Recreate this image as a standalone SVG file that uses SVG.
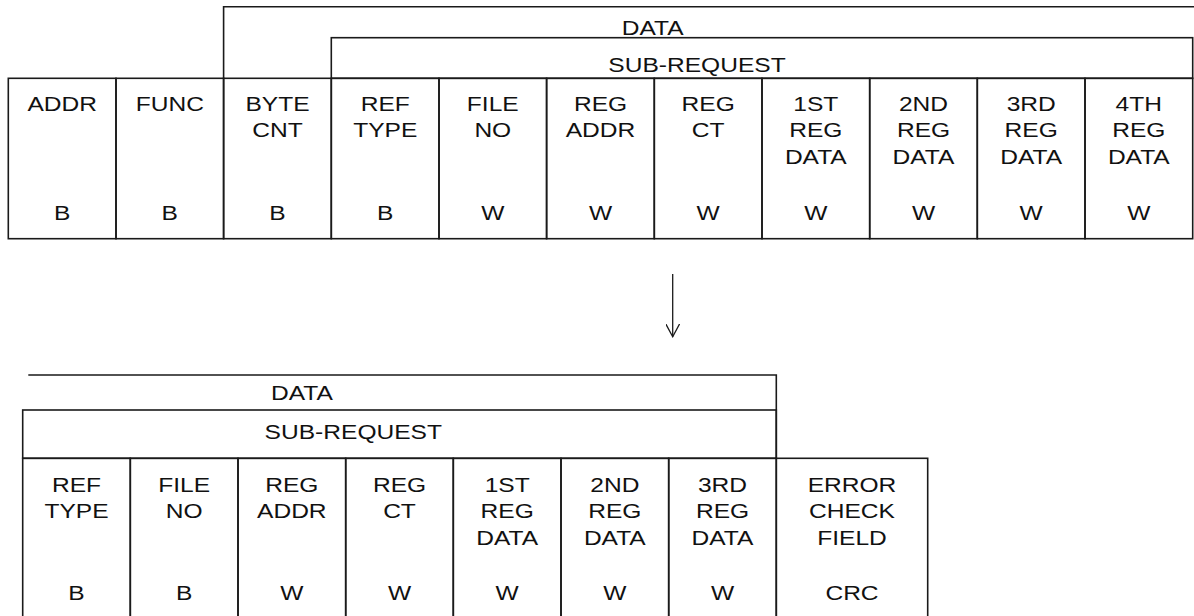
<svg xmlns="http://www.w3.org/2000/svg" width="1194" height="616" viewBox="0 0 1194 616">
  <style>
    .frame { fill: none; stroke: #1a1a1a; stroke-width: 1.6; }
    .lbl { font-family: "Liberation Sans", Arial, sans-serif; font-size: 21px; fill: #111; text-anchor: middle; }
    .conn { fill: none; stroke: #1a1a1a; stroke-width: 1.3; }
  </style>
  <defs>
    <marker id="openArrow" viewBox="0 0 14 14" refX="13" refY="7" markerWidth="14" markerHeight="14" markerUnits="userSpaceOnUse" orient="auto">
      <path d="M0,0 L13,7 L0,14" fill="none" stroke="#1a1a1a" stroke-width="1.3"/>
    </marker>
  </defs>
  <rect width="1194" height="616" fill="#ffffff"/>

  <!-- Request frame: ADDR .. 4TH REG DATA -->
  <g id="req-data">
    <path class="frame" d="M223.6,78.3 V6.7 H1194"/>
    <text class="lbl" transform="translate(652.7,34.5) scale(1.17 1)">DATA</text>
  </g>
  <g id="req-subrequest">
    <rect class="frame" x="331.3" y="37.7" width="861.4" height="40.6"/>
    <text class="lbl" transform="translate(697,71.5) scale(1.17 1)">SUB-REQUEST</text>
  </g>

  <g id="req-addr">
    <rect class="frame" x="8.3" y="78.3" width="107.7" height="160.4"/>
    <text class="lbl" transform="translate(62.2,110.5) scale(1.17 1)">ADDR</text>
    <text class="lbl" transform="translate(62.2,220) scale(1.17 1)">B</text>
  </g>
  <g id="req-func">
    <rect class="frame" x="116" y="78.3" width="107.6" height="160.4"/>
    <text class="lbl" transform="translate(169.8,110.5) scale(1.17 1)">FUNC</text>
    <text class="lbl" transform="translate(169.8,220) scale(1.17 1)">B</text>
  </g>
  <g id="req-bytecnt">
    <rect class="frame" x="223.6" y="78.3" width="107.7" height="160.4"/>
    <text class="lbl" transform="translate(277.5,110.5) scale(1.17 1)"><tspan x="0">BYTE</tspan><tspan x="0" dy="27">CNT</tspan></text>
    <text class="lbl" transform="translate(277.5,220) scale(1.17 1)">B</text>
  </g>
  <g id="req-reftype">
    <rect class="frame" x="331.3" y="78.3" width="107.7" height="160.4"/>
    <text class="lbl" transform="translate(385.2,110.5) scale(1.17 1)"><tspan x="0">REF</tspan><tspan x="0" dy="27">TYPE</tspan></text>
    <text class="lbl" transform="translate(385.2,220) scale(1.17 1)">B</text>
  </g>
  <g id="req-fileno">
    <rect class="frame" x="439" y="78.3" width="107.6" height="160.4"/>
    <text class="lbl" transform="translate(492.8,110.5) scale(1.17 1)"><tspan x="0">FILE</tspan><tspan x="0" dy="27">NO</tspan></text>
    <text class="lbl" transform="translate(492.8,220) scale(1.17 1)">W</text>
  </g>
  <g id="req-regaddr">
    <rect class="frame" x="546.6" y="78.3" width="107.7" height="160.4"/>
    <text class="lbl" transform="translate(600.5,110.5) scale(1.17 1)"><tspan x="0">REG</tspan><tspan x="0" dy="27">ADDR</tspan></text>
    <text class="lbl" transform="translate(600.5,220) scale(1.17 1)">W</text>
  </g>
  <g id="req-regct">
    <rect class="frame" x="654.3" y="78.3" width="107.7" height="160.4"/>
    <text class="lbl" transform="translate(708.2,110.5) scale(1.17 1)"><tspan x="0">REG</tspan><tspan x="0" dy="27">CT</tspan></text>
    <text class="lbl" transform="translate(708.2,220) scale(1.17 1)">W</text>
  </g>
  <g id="req-reg1">
    <rect class="frame" x="762" y="78.3" width="107.7" height="160.4"/>
    <text class="lbl" transform="translate(815.8,110.5) scale(1.17 1)"><tspan x="0">1ST</tspan><tspan x="0" dy="27">REG</tspan><tspan x="0" dy="27">DATA</tspan></text>
    <text class="lbl" transform="translate(815.8,220) scale(1.17 1)">W</text>
  </g>
  <g id="req-reg2">
    <rect class="frame" x="869.7" y="78.3" width="107.6" height="160.4"/>
    <text class="lbl" transform="translate(923.5,110.5) scale(1.17 1)"><tspan x="0">2ND</tspan><tspan x="0" dy="27">REG</tspan><tspan x="0" dy="27">DATA</tspan></text>
    <text class="lbl" transform="translate(923.5,220) scale(1.17 1)">W</text>
  </g>
  <g id="req-reg3">
    <rect class="frame" x="977.3" y="78.3" width="107.7" height="160.4"/>
    <text class="lbl" transform="translate(1031.2,110.5) scale(1.17 1)"><tspan x="0">3RD</tspan><tspan x="0" dy="27">REG</tspan><tspan x="0" dy="27">DATA</tspan></text>
    <text class="lbl" transform="translate(1031.2,220) scale(1.17 1)">W</text>
  </g>
  <g id="req-reg4">
    <rect class="frame" x="1085" y="78.3" width="107.7" height="160.4"/>
    <text class="lbl" transform="translate(1138.8,110.5) scale(1.17 1)"><tspan x="0">4TH</tspan><tspan x="0" dy="27">REG</tspan><tspan x="0" dy="27">DATA</tspan></text>
    <text class="lbl" transform="translate(1138.8,220) scale(1.17 1)">W</text>
  </g>

  <!-- Continuation frame: REF TYPE .. ERROR CHECK FIELD -->
  <g id="cont-data">
    <path class="frame" d="M28.3,375 H776.3 V458.3"/>
    <text class="lbl" transform="translate(302,400) scale(1.17 1)">DATA</text>
  </g>
  <g id="cont-subrequest">
    <rect class="frame" x="22.7" y="410" width="753.6" height="48.3"/>
    <text class="lbl" transform="translate(353.3,439.3) scale(1.17 1)">SUB-REQUEST</text>
  </g>

  <g id="cont-reftype">
    <rect class="frame" x="22.7" y="458.3" width="107.6" height="180"/>
    <text class="lbl" transform="translate(76.5,491.5) scale(1.17 1)"><tspan x="0">REF</tspan><tspan x="0" dy="27">TYPE</tspan></text>
    <text class="lbl" transform="translate(76.5,600) scale(1.17 1)">B</text>
  </g>
  <g id="cont-fileno">
    <rect class="frame" x="130.3" y="458.3" width="107.7" height="180"/>
    <text class="lbl" transform="translate(184.2,491.5) scale(1.17 1)"><tspan x="0">FILE</tspan><tspan x="0" dy="27">NO</tspan></text>
    <text class="lbl" transform="translate(184.2,600) scale(1.17 1)">B</text>
  </g>
  <g id="cont-regaddr">
    <rect class="frame" x="238" y="458.3" width="107.7" height="180"/>
    <text class="lbl" transform="translate(291.8,491.5) scale(1.17 1)"><tspan x="0">REG</tspan><tspan x="0" dy="27">ADDR</tspan></text>
    <text class="lbl" transform="translate(291.8,600) scale(1.17 1)">W</text>
  </g>
  <g id="cont-regct">
    <rect class="frame" x="345.7" y="458.3" width="107.6" height="180"/>
    <text class="lbl" transform="translate(399.5,491.5) scale(1.17 1)"><tspan x="0">REG</tspan><tspan x="0" dy="27">CT</tspan></text>
    <text class="lbl" transform="translate(399.5,600) scale(1.17 1)">W</text>
  </g>
  <g id="cont-reg1">
    <rect class="frame" x="453.3" y="458.3" width="107.7" height="180"/>
    <text class="lbl" transform="translate(507.2,491.5) scale(1.17 1)"><tspan x="0">1ST</tspan><tspan x="0" dy="27">REG</tspan><tspan x="0" dy="27">DATA</tspan></text>
    <text class="lbl" transform="translate(507.2,600) scale(1.17 1)">W</text>
  </g>
  <g id="cont-reg2">
    <rect class="frame" x="561" y="458.3" width="107.7" height="180"/>
    <text class="lbl" transform="translate(614.8,491.5) scale(1.17 1)"><tspan x="0">2ND</tspan><tspan x="0" dy="27">REG</tspan><tspan x="0" dy="27">DATA</tspan></text>
    <text class="lbl" transform="translate(614.8,600) scale(1.17 1)">W</text>
  </g>
  <g id="cont-reg3">
    <rect class="frame" x="668.7" y="458.3" width="107.6" height="180"/>
    <text class="lbl" transform="translate(722.5,491.5) scale(1.17 1)"><tspan x="0">3RD</tspan><tspan x="0" dy="27">REG</tspan><tspan x="0" dy="27">DATA</tspan></text>
    <text class="lbl" transform="translate(722.5,600) scale(1.17 1)">W</text>
  </g>
  <g id="cont-crc">
    <rect class="frame" x="776.3" y="458.3" width="151.4" height="180"/>
    <text class="lbl" transform="translate(852,491.5) scale(1.17 1)"><tspan x="0">ERROR</tspan><tspan x="0" dy="27">CHECK</tspan><tspan x="0" dy="27">FIELD</tspan></text>
    <text class="lbl" transform="translate(852,600) scale(1.17 1)">CRC</text>
  </g>

  <!-- Connectors -->
  <g id="connectors">
    <line class="conn" x1="672.7" y1="274" x2="672.7" y2="336.7" marker-end="url(#openArrow)"/>
  </g>
</svg>
